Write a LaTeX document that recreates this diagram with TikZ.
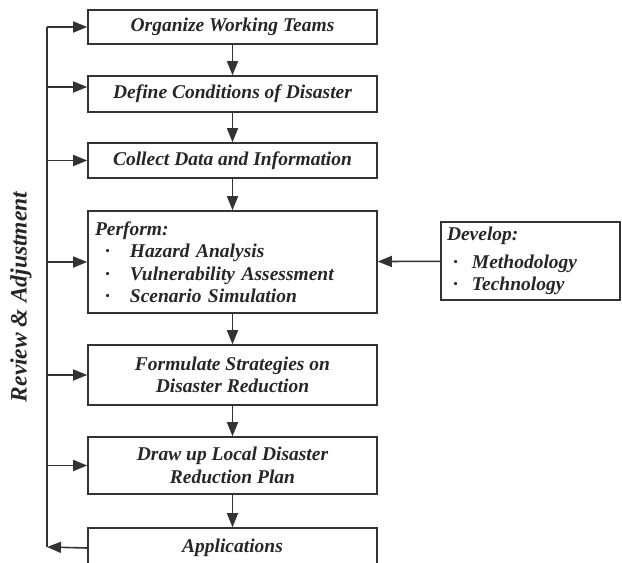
\documentclass[tikz,border=0pt]{standalone}
\usepackage{fontspec}
\setmainfont{Liberation Serif}
\usepackage{tikz}
\usetikzlibrary{positioning, arrows.meta}
\usepackage{xcolor}

\definecolor{inkgray}{HTML}{333333}
\newcommand\stagefont{\fontsize{19.5}{22.5}\selectfont\bfseries\itshape}
\newcommand\pitem[1]{\hspace*{10pt}\makebox[25pt][l]{·}#1}
\newcommand\ditem[1]{\hspace*{6pt}\makebox[19pt][l]{·}#1}

\begin{document}
\begin{tikzpicture}[x=1pt, y=-1pt,
    stagebox/.style={draw=inkgray, line width=1.6pt, minimum width=289pt, inner sep=0pt, font=\stagefont, text=black!85, align=center},
    flowarrow/.style={draw=inkgray, line width=1.6pt, -{Triangle[length=14pt, width=11pt]}}]
    \useasboundingbox (0,0) rectangle (622,563);

    % Define the stages
    \node[stagebox, minimum height=34pt] (org) at (232.5,27) {Organize Working Teams};
    \node[stagebox, minimum height=36pt] (def) at (232.5,94) {Define Conditions of Disaster};
    \node[stagebox, minimum height=35pt] (col) at (232.5,160.5) {Collect Data and Information};
    \node[stagebox, minimum height=102pt, text width=275pt, inner xsep=7pt, align=left] (perf) at (232.5,262)
        {Perform:\\ \pitem{Hazard Analysis}\\ \pitem{Vulnerability Assessment}\\ \pitem{Scenario Simulation}};
    \node[stagebox, minimum height=60pt] (form) at (232.5,375) {Formulate Strategies on\\ Disaster Reduction};
    \node[stagebox, minimum height=57pt] (plan) at (232.5,465.5) {Draw up Local Disaster\\ Reduction Plan};
    \node[stagebox, minimum height=40pt] (apps) at (232.5,548) {Applications};

    % Side input
    \node[stagebox, minimum width=179pt, minimum height=78pt, text width=167pt, inner xsep=6pt, align=left] (dev) at (530.5,261)
        {Develop:\\[5pt] \ditem{Methodology}\\ \ditem{Technology}};

    % Feedback label
    \node[rotate=90, font=\fontsize{23.5}{26}\selectfont\bfseries\itshape, text=black!85] (review) at (21,297) {Review \& Adjustment};

    % Draw the Edges
    % Main sequence
    \draw[flowarrow] (org) -- (def);
    \draw[flowarrow] (def) -- (col);
    \draw[flowarrow] (col) -- (perf);
    \draw[flowarrow] (perf) -- (form);
    \draw[flowarrow] (form) -- (plan);
    \draw[flowarrow] (plan) -- (apps);
    \draw[flowarrow] (dev) -- (perf);

    % Feedback line
    \coordinate (spinetop) at (47,27);
    \coordinate (spinebot) at (47,547);
    \coordinate (defin) at ([yshift=7pt]def.west);
    \draw[draw=inkgray, line width=1.6pt] (spinetop) -- (spinebot);
    \draw[flowarrow] (spinetop) -- (org.west);
    \draw[flowarrow] (spinetop |- defin) -- (defin);
    \draw[flowarrow] (spinetop |- col.west) -- (col.west);
    \draw[flowarrow] (spinetop |- perf.west) -- (perf.west);
    \draw[flowarrow] (spinetop |- form.west) -- (form.west);
    \draw[flowarrow] (spinetop |- plan.west) -- (plan.west);
    \draw[flowarrow] (apps.west) -- (spinebot);

\end{tikzpicture}
\end{document}
